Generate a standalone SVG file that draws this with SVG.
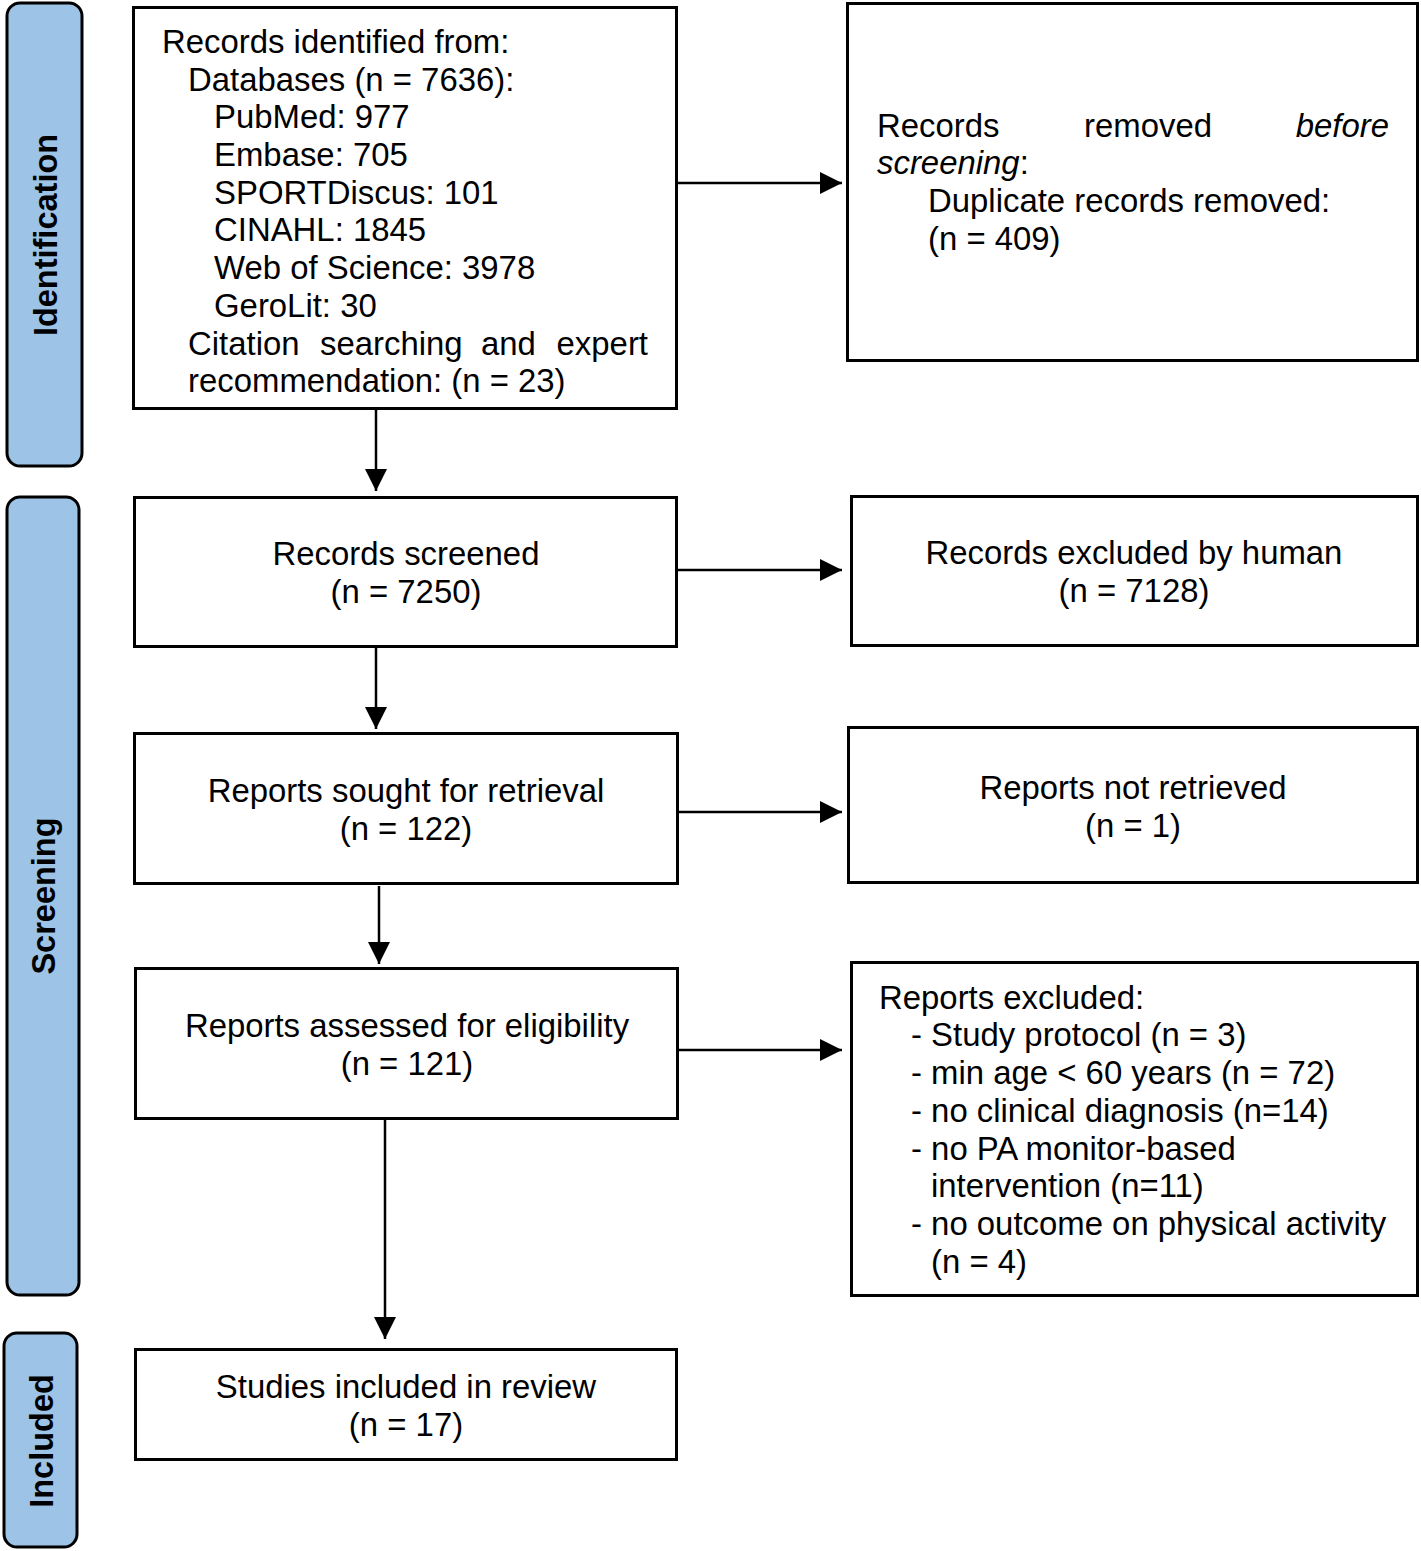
<svg xmlns="http://www.w3.org/2000/svg" width="1421" height="1551" viewBox="0 0 1421 1551">
<style>
.bx{fill:#fff;stroke:#000;stroke-width:3}
.bar{fill:#9DC3E6;stroke:#000;stroke-width:3}
.t{font-family:"Liberation Sans",Arial,sans-serif;font-size:32.9px;fill:#000}
.c{text-anchor:middle}
.lab{font-family:"Liberation Sans",Arial,sans-serif;font-size:32.5px;font-weight:bold;fill:#000;text-anchor:middle}
.ln{stroke:#000;stroke-width:2.5;fill:none;marker-end:url(#ah)}
</style>
<defs>
<marker id="ah" viewBox="0 0 10 10" refX="10" refY="5" markerWidth="23" markerHeight="22" markerUnits="userSpaceOnUse" orient="auto">
<path d="M0,0 L10,5 L0,10 z" fill="#000"/>
</marker>
</defs>
<g id="phase-identification">
<rect class="bar" x="7" y="3" width="75" height="463" rx="13"/>
<text class="lab" transform="translate(57,235) rotate(-90)">Identification</text>
</g>
<g id="phase-screening">
<rect class="bar" x="7" y="497" width="72" height="798" rx="13"/>
<text class="lab" transform="translate(55,896) rotate(-90)">Screening</text>
</g>
<g id="phase-included">
<rect class="bar" x="4" y="1333" width="73" height="214" rx="13"/>
<text class="lab" transform="translate(53,1441) rotate(-90)">Included</text>
</g>
<g id="connectors">
<line class="ln" x1="678" y1="183" x2="842" y2="183"/>
<line class="ln" x1="376" y1="410" x2="376" y2="491"/>
<line class="ln" x1="678" y1="570" x2="842" y2="570"/>
<line class="ln" x1="376" y1="648" x2="376" y2="729"/>
<line class="ln" x1="679" y1="812" x2="842" y2="812"/>
<line class="ln" x1="379" y1="886" x2="379" y2="964"/>
<line class="ln" x1="679" y1="1050" x2="842" y2="1050"/>
<line class="ln" x1="385" y1="1120" x2="385" y2="1339"/>
</g>
<g id="records-identified">
<rect class="bx" x="133.5" y="7.5" width="543" height="401"/>
<text class="t" x="162" y="53">Records identified from:</text>
<text class="t" x="188" y="91">Databases (n = 7636):</text>
<text class="t" x="214" y="128">PubMed: 977</text>
<text class="t" x="214" y="166">Embase: 705</text>
<text class="t" x="214" y="204">SPORTDiscus: 101</text>
<text class="t" x="214" y="241">CINAHL: 1845</text>
<text class="t" x="214" y="279">Web of Science: 3978</text>
<text class="t" x="214" y="317">GeroLit: 30</text>
<text class="t" y="355"><tspan x="188">Citation</tspan><tspan x="320">searching</tspan><tspan x="481">and</tspan><tspan x="648" text-anchor="end">expert</tspan></text>
<text class="t" x="188" y="392">recommendation: (n = 23)</text>
</g>
<g id="records-removed">
<rect class="bx" x="847.5" y="3.5" width="570" height="357"/>
<text class="t" y="137"><tspan x="877">Records</tspan><tspan x="1084">removed</tspan><tspan x="1389" text-anchor="end" font-style="italic">before</tspan></text>
<text class="t" x="877" y="174"><tspan font-style="italic">screening</tspan>:</text>
<text class="t" x="928" y="212">Duplicate records removed:</text>
<text class="t" x="928" y="250">(n = 409)</text>
</g>
<g id="records-screened">
<rect class="bx" x="134.5" y="497.5" width="542" height="149"/>
<text class="t c" x="406" y="565">Records screened</text>
<text class="t c" x="406" y="603">(n = 7250)</text>
</g>
<g id="records-excluded">
<rect class="bx" x="851.5" y="496.5" width="566" height="149"/>
<text class="t c" x="1134" y="564">Records excluded by human</text>
<text class="t c" x="1134" y="602">(n = 7128)</text>
</g>
<g id="reports-sought">
<rect class="bx" x="134.5" y="733.5" width="543" height="150"/>
<text class="t c" x="406" y="802">Reports sought for retrieval</text>
<text class="t c" x="406" y="840">(n = 122)</text>
</g>
<g id="reports-not-retrieved">
<rect class="bx" x="848.5" y="727.5" width="569" height="155"/>
<text class="t c" x="1133" y="799">Reports not retrieved</text>
<text class="t c" x="1133" y="837">(n = 1)</text>
</g>
<g id="reports-assessed">
<rect class="bx" x="135.5" y="968.5" width="542" height="150"/>
<text class="t c" x="407" y="1037">Reports assessed for eligibility</text>
<text class="t c" x="407" y="1075">(n = 121)</text>
</g>
<g id="reports-excluded">
<rect class="bx" x="851.5" y="962.5" width="566" height="333"/>
<text class="t" x="879" y="1009">Reports excluded:</text>
<text class="t" x="911" y="1046">- Study protocol (n = 3)</text>
<text class="t" x="911" y="1084">- min age &lt; 60 years (n = 72)</text>
<text class="t" x="911" y="1122">- no clinical diagnosis (n=14)</text>
<text class="t" x="911" y="1160">- no PA monitor-based</text>
<text class="t" x="931" y="1197">intervention (n=11)</text>
<text class="t" x="911" y="1235">- no outcome on physical activity</text>
<text class="t" x="931" y="1273">(n = 4)</text>
</g>
<g id="studies-included">
<rect class="bx" x="135.5" y="1349.5" width="541" height="110"/>
<text class="t c" x="406" y="1398">Studies included in review</text>
<text class="t c" x="406" y="1436">(n = 17)</text>
</g>
</svg>
